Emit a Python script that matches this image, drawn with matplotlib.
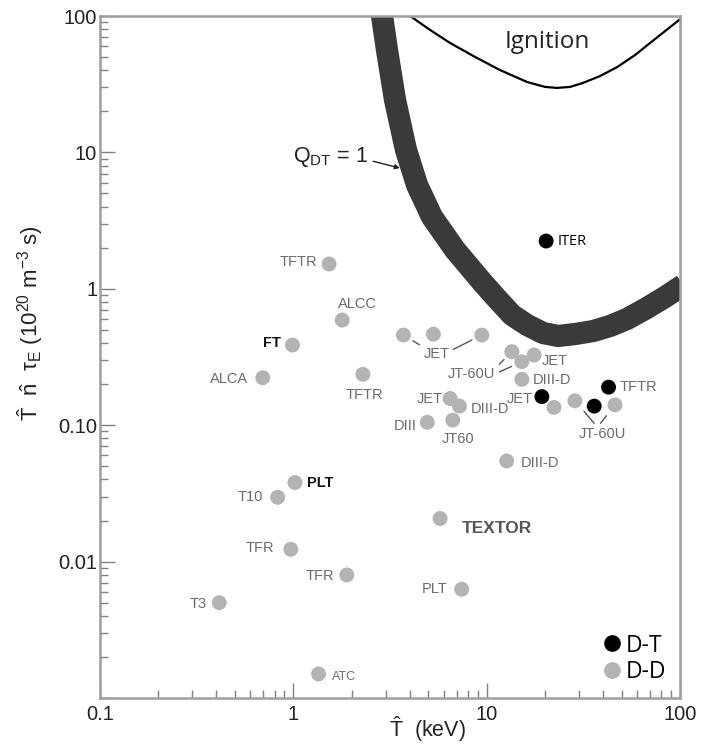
import matplotlib
matplotlib.use("Agg")
import matplotlib.pyplot as plt
import numpy as np
from matplotlib.lines import Line2D

plt.rcParams['font.family'] = ['Liberation Sans', 'DejaVu Sans']
plt.rcParams['mathtext.fontset'] = 'custom'
plt.rcParams['mathtext.rm'] = 'Liberation Sans'
plt.rcParams['mathtext.it'] = 'Liberation Sans:italic'
plt.rcParams['mathtext.bf'] = 'Liberation Sans:bold'

# D-D experiments (T in keV, n*T*tau in 1e20 m^-3 s)
dd_T = [1.53, 1.79, 0.99, 0.695, 2.29, 3.71, 5.3, 9.44, 13.5, 15.2, 17.6, 15.2,
        6.47, 7.23, 6.68, 4.93, 22.3, 28.6, 46.1, 12.7, 1.02, 0.83, 5.74, 0.97,
        1.89, 7.43, 0.414, 1.35]
dd_val = [1.52, 0.59, 0.387, 0.223, 0.236, 0.458, 0.465, 0.458, 0.346, 0.292, 0.327, 0.217,
          0.157, 0.138, 0.109, 0.105, 0.135, 0.151, 0.141, 0.0547, 0.038, 0.0296, 0.0207, 0.0123,
          0.00798, 0.00627, 0.005, 0.0015]

# D-T experiments (JET, TFTR, JT-60U) and ITER
dt_T = [19.3, 42.7, 36.0, 20.3]
dt_val = [0.162, 0.19, 0.138, 2.24]

# Q_DT = 1 band centre line
q1_T = [2.74, 2.877, 3.051, 3.358, 3.828, 4.364, 5.219, 6.864, 9.581, 11.46, 13.53,
        16.18, 19.58, 23.41, 28.67, 35.52, 43.50, 53.24, 65.99, 83.75, 103.8]
q1_val = [131, 100, 56.3, 24.2, 10.4, 5.77, 3.36, 1.93, 1.10, 0.828, 0.642,
          0.543, 0.474, 0.451, 0.466, 0.490, 0.534, 0.601, 0.711, 0.871, 1.066]

# ignition curve
ign_T = [4.02, 5.10, 6.47, 8.71, 11.7, 16.2, 20.05, 23.1, 27.0, 31.5, 38.6, 47.3,
         58.6, 70.0, 83.8, 102]
ign_val = [100, 79.0, 63.4, 50.1, 40.2, 32.8, 30.2, 29.7, 30.2, 32.3, 36.3, 42.2,
           51.8, 63.4, 77.6, 96.7]

# labels: text, series ('dd'/'dt'), index of the dot it belongs to
labels = ['TFTR', 'ALCC', 'FT', 'ALCA', 'TFTR', 'JET', 'JT-60U', 'JET', 'DIII-D', 'JET',
          'JET', 'DIII-D', 'DIII', 'JT60', 'TFTR', 'JT-60U', 'DIII-D', 'PLT', 'T10',
          'TEXTOR', 'TFR', 'TFR', 'PLT', 'T3', 'ATC', 'ITER']
label_series = ['dd', 'dd', 'dd', 'dd', 'dd', 'dd', 'dd', 'dd', 'dd', 'dt',
                'dd', 'dd', 'dd', 'dd', 'dt', 'dt', 'dd', 'dd', 'dd',
                'dd', 'dd', 'dd', 'dd', 'dd', 'dd', 'dt']
label_idx = [0, 1, 2, 3, 4, 6, 9, 10, 11, 0,
             12, 13, 15, 14, 1, 2, 19, 20, 21,
             22, 23, 24, 25, 26, 27, 3]
# label offsets from the dot, in pixels (right, down)
label_off = [(-31, -2), (15, -16), (-21, -2), (-34, 1), (2, 21), (3, 20), (-50, 12), (21, 6),
             (30, 1), (-22, 2), (-20, 1), (31, 3), (-22, 4), (5, 19), (30, 0), (8, 28),
             (33, 2), (25, 0), (-27, 0), (57, 10), (-31, -1), (-27, 1), (-27, 0), (-21, 1),
             (26, 3), (26, 0)]
# connector lines: label number -> dd dot index, relpos on the text box, gap at dot (pt)
connectors = [(5, 5, (0.0, 1.0), 8), (5, 7, (1.0, 0.7), 8), (6, 8, (1.0, 0.9), 8),
              (6, 9, (1.0, 0.5), 8), (15, 17, (0.4, 1.0), 10), (15, 18, (0.4, 1.0), 10)]

fig = plt.figure(figsize=(7.03, 7.51), dpi=100)
ax = fig.add_axes([100 / 703, 53 / 751, 580 / 703, 682 / 751])
ax.set_xscale('log')
ax.set_yscale('log')
ax.set_xlim(0.1, 100)
ax.set_ylim(0.001, 100)

ax.plot(q1_T, q1_val, color='#3a3a3a', lw=16, solid_capstyle='butt',
        solid_joinstyle='round', zorder=2)
ax.plot(ign_T, ign_val, color='black', lw=1.6, solid_joinstyle='round', zorder=2)

ax.scatter(dd_T, dd_val, s=115, color='#b3b3b3', edgecolors='none', zorder=4)
ax.scatter(dt_T, dt_val, s=115, color='black', edgecolors='none', zorder=5)


def dot(series, i):
    return (dd_T[i], dd_val[i]) if series == 'dd' else (dt_T[i], dt_val[i])


def label_pos(pt, off):
    # shift a data point by an offset in pixels (dpi 100)
    disp = ax.transData.transform(pt) + np.array([off[0], -off[1]])
    return ax.transData.inverted().transform(disp)


gray = '#6b6b6b'
label_kw = []
for i, txt in enumerate(labels):
    kw = dict(fontsize=10.5, color=gray)
    if txt == 'FT' or (txt == 'PLT' and label_idx[i] == 20):
        kw = dict(fontsize=10.5, color='#111111', fontweight='bold')
    if txt == 'TEXTOR':
        kw = dict(fontsize=12.5, color='#555555', fontweight='bold')
    if txt == 'ATC':
        kw = dict(fontsize=9, color=gray)
    if txt == 'ITER':
        kw = dict(fontsize=10.5, color='black', family='Open Sans')
    label_kw.append(kw)
    x, y = label_pos(dot(label_series[i], label_idx[i]), label_off[i])
    ax.text(x, y, txt, ha='center', va='center', zorder=3, **kw)

for li, di, rp, gap in connectors:
    x, y = label_pos(dot(label_series[li], label_idx[li]), label_off[li])
    kw = dict(label_kw[li])
    kw['color'] = (0, 0, 0, 0)
    ax.annotate(labels[li], xy=(dd_T[di], dd_val[di]), xytext=(x, y),
                ha='center', va='center', zorder=3,
                arrowprops=dict(arrowstyle='-', color='#555555', lw=1.0,
                                shrinkA=1, shrinkB=gap, relpos=rp), **kw)

# text and arrow for Q = 1
ax.text(0.397, 0.793, r'$\mathregular{Q_{DT}}$ = 1', transform=ax.transAxes,
        fontsize=15.5, ha='center', va='center', color='#222222')
ax.annotate('', xy=(0.517, 0.777), xycoords='axes fraction',
            xytext=(0.471, 0.787), textcoords='axes fraction',
            arrowprops=dict(arrowstyle='-|>', color='#222222', lw=1.0,
                            mutation_scale=7, shrinkA=0, shrinkB=0))
ax.text(0.772, 0.962, 'Ignition', transform=ax.transAxes, fontsize=17.5,
        family='Open Sans', ha='center', va='center', color='#222222')

ax.legend(handles=[Line2D([], [], ls='none', marker='o', ms=11, color='black'),
                   Line2D([], [], ls='none', marker='o', ms=11, color='#b3b3b3')],
          labels=['D-T', 'D-D'], loc='lower right', frameon=False,
          prop=dict(family='Open Sans', size=16.5), handletextpad=0.1,
          labelspacing=0.12, borderaxespad=0.2, handlelength=1.0)

for s in ax.spines.values():
    s.set_color('#9e9e9e')
    s.set_linewidth(1.8)
ax.tick_params(which='both', direction='in', color='#808080', top=False, right=False)
ax.tick_params(which='major', length=11, width=1.0, labelsize=14.5, labelcolor='#222222')
ax.tick_params(which='minor', length=6, width=1.0)
ax.tick_params(axis='x', which='major', pad=5)
ax.tick_params(axis='y', which='major', pad=2)
ax.set_xticks([0.1, 1, 10, 100])
ax.set_xticklabels(['0.1', '1', '10', '100'])
ax.set_yticks([0.001, 0.01, 0.1, 1, 10, 100])
ax.set_yticklabels(['', '0.01', '0.10', '1', '10', '100'])

ax.set_xlabel(r'$\mathregular{\hat{T}}$  (keV)', fontsize=15.5, color='#222222')
ax.xaxis.set_label_coords(0.564, -0.024)
ax.set_ylabel(r'$\mathregular{\hat{T}\ \ \hat{n}\ \ \tau_E\ (10^{20}\ m^{-3}\ s)}$',
              fontsize=16, color='#222222')
ax.yaxis.set_label_coords(-0.095, 0.55)

fig.savefig('out.png', dpi=100)
